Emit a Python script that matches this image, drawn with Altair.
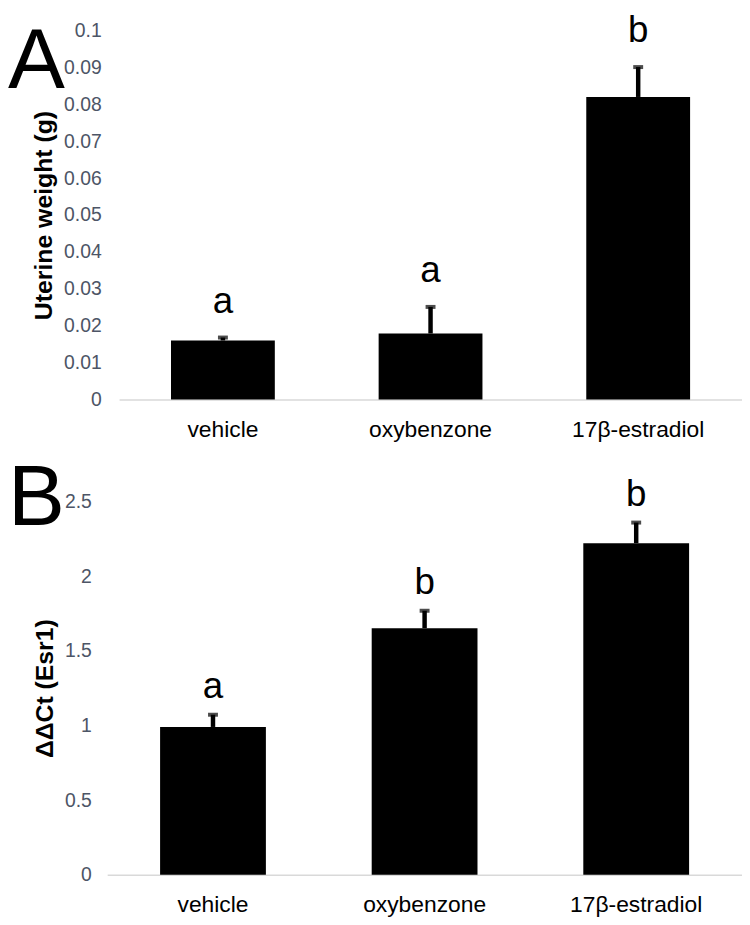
import altair as alt
import pandas as pd

categories = ["vehicle", "oxybenzone", "17β-estradiol"]

uterine_mean = [0.0160, 0.0179, 0.0820]
uterine_err = [0.0008, 0.0072, 0.0081]
uterine_sig = ["a", "a", "b"]
uterine_ticks = [0, 0.01, 0.02, 0.03, 0.04, 0.05, 0.06, 0.07, 0.08, 0.09, 0.1]

esr1_mean = [0.99, 1.652, 2.222]
esr1_err = [0.082, 0.117, 0.138]
esr1_sig = ["a", "b", "b"]
esr1_ticks = [0, 0.5, 1, 1.5, 2, 2.5]

FONT = "Liberation Sans"


def panel(mean, err, sig, ticks, ymax, title, letter, xrange, height,
          y_label_pad, sig_dy, letter_y):
    df = pd.DataFrame({
        "cat": categories,
        "mean": mean,
        "upper": [m + e for m, e in zip(mean, err)],
        "sig": sig,
    })
    xscale = alt.Scale(domain=categories, range=xrange,
                       paddingInner=0.5, paddingOuter=0.25)
    xaxis = alt.Axis(title=None, labelAngle=0, labelFontSize=23,
                     labelColor="black", labelFont=FONT,
                     labelPadding=19, ticks=False,
                     domainColor="#d9d9d9", domainWidth=1.5)
    yscale = alt.Scale(domain=[0, ymax], nice=False)
    yaxis = alt.Axis(title=title, values=ticks, format="~g",
                     grid=False, domain=False, ticks=False,
                     labelOverlap=False, tickCount=len(ticks),
                     labelFontSize=19.5, labelColor="#4d5566",
                     labelFont=FONT, labelPadding=y_label_pad,
                     titleFontSize=25, titleFontWeight="bold",
                     titleColor="black", titleFont=FONT,
                     titlePadding=7)
    x = alt.X("cat:N", scale=xscale, sort=categories, axis=xaxis)
    base = alt.Chart(df)
    bars = base.mark_bar(color="black").encode(
        x=x, y=alt.Y("mean:Q", scale=yscale, axis=yaxis))
    stems = base.mark_rule(color="black", strokeWidth=4.5).encode(
        x=x, y=alt.Y("mean:Q", scale=yscale, axis=yaxis), y2="upper:Q")
    caps = base.mark_tick(color="black", thickness=4, size=10).encode(
        x=x, y=alt.Y("upper:Q", scale=yscale, axis=yaxis))
    sigs = base.mark_text(fontSize=37, font=FONT, baseline="alphabetic",
                          dy=sig_dy, color="black").encode(
        x=x, y=alt.Y("upper:Q", scale=yscale, axis=yaxis), text="sig:N")
    lett = alt.Chart(pd.DataFrame({"t": [letter]})).mark_text(
        fontSize=86, font=FONT, align="left", baseline="alphabetic",
        color="black").encode(x=alt.value(-100), y=alt.value(letter_y),
                              text="t:N")
    return alt.layer(bars, stems, caps, sigs, lett).properties(
        width=640, height=height)


panel_a = panel(uterine_mean, uterine_err, uterine_sig, uterine_ticks, 0.1,
                "Uterine weight (g)", "A", [12, 640], 372, 6, -25, 58)
panel_b = panel(esr1_mean, esr1_err, esr1_sig, esr1_ticks, 2.5,
                "ΔΔCt (Esr1)", "B", [0, 640], 376, 16, -16.5, 24)

chart = alt.vconcat(panel_a, panel_b, spacing=16).properties(
    padding={"left": 0, "top": 0, "right": 0, "bottom": 0},
    background="white",
).configure_view(stroke=None).configure_axisY(labelOverlap=False)

chart.save("out.html", embed_options={"renderer": "svg", "actions": False})
